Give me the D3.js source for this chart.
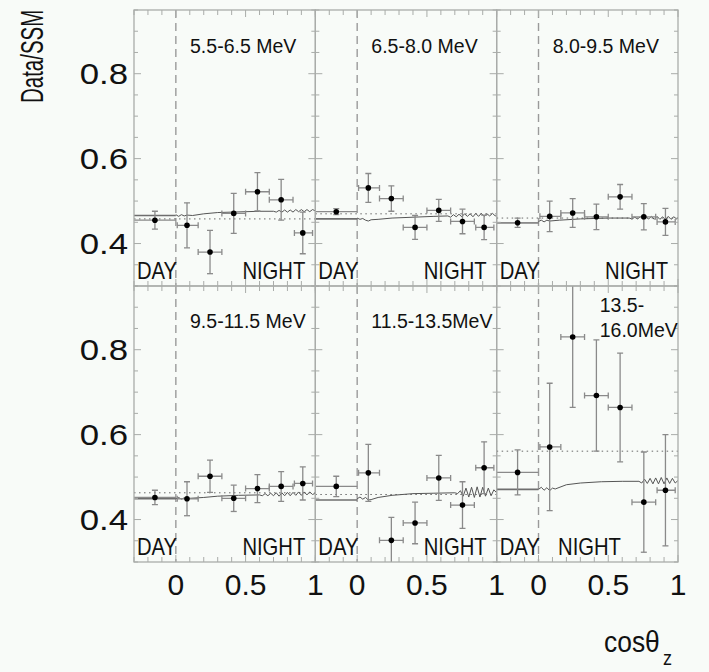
<!DOCTYPE html>
<html>
<head>
<meta charset="utf-8">
<script src="https://cdn.jsdelivr.net/npm/d3@7"></script>
<style>
  html, body { margin: 0; padding: 0; background: #f8fbf8; }
  svg { display: block; }
  text { font-family: "Liberation Sans", Arial, Helvetica, sans-serif; fill: #111; }
</style>
</head>
<body>
<svg id="chart" width="709" height="672"></svg>
<script>
// Energy bins (one panel each)
const energyLabels = [["5.5-6.5 MeV"], ["6.5-8.0 MeV"], ["8.0-9.5 MeV"],
                      ["9.5-11.5 MeV"], ["11.5-13.5MeV"], ["13.5-", "16.0MeV"]];

// Zenith-angle bins for the night data
const binCenters = [0.08, 0.245, 0.415, 0.585, 0.755, 0.91];
const binLo      = [0.01, 0.16, 0.33, 0.50, 0.67, 0.85];
const binHi      = [0.16, 0.33, 0.50, 0.67, 0.84, 0.98];

// Day measurement per energy bin
const dayValues = [0.455, 0.475, 0.449, 0.452, 0.478, 0.511];
const dayErrors = [0.021, 0.007, 0.011, 0.017, 0.024, 0.053];

// Night measurements per energy bin
const nightValues = [
  [0.443, 0.380, 0.471, 0.522, 0.503, 0.425],
  [0.531, 0.506, 0.438, 0.478, 0.452, 0.438],
  [0.464, 0.472, 0.463, 0.510, 0.463, 0.451],
  [0.449, 0.502, 0.450, 0.473, 0.478, 0.485],
  [0.510, 0.351, 0.392, 0.498, 0.434, 0.522],
  [0.571, 0.830, 0.692, 0.664, 0.441, 0.469]
];
const nightErrors = [
  [0.053, 0.051, 0.047, 0.045, 0.048, 0.049],
  [0.034, 0.030, 0.028, 0.026, 0.029, 0.029],
  [0.036, 0.034, 0.030, 0.029, 0.031, 0.032],
  [0.040, 0.038, 0.031, 0.033, 0.035, 0.039],
  [0.067, 0.054, 0.049, 0.053, 0.055, 0.061],
  [0.150, 0.166, 0.131, 0.128, 0.118, 0.131]
];

// Flat reference level (dotted) per energy bin
const flatLevels = [0.458, 0.470, 0.460, 0.463, 0.459, 0.561];

// Oscillation prediction: day level and night curve [cosθz, Data/SSM]
const modelDay = [0.466, 0.458, 0.449, 0.449, 0.446, 0.471];
const modelNight = [
  [[0,0.468],[0.02,0.464],[0.04,0.468],[0.06,0.465],[0.08,0.467],[0.12,0.466],[0.2,0.470],[0.3,0.473],[0.4,0.474],[0.5,0.475],[0.6,0.476],[0.7,0.476],[0.72,0.474],[0.74,0.478],[0.76,0.474],[0.78,0.479],[0.80,0.474],[0.82,0.479],[0.84,0.474],[0.86,0.480],[0.88,0.475],[0.90,0.480],[0.92,0.475],[0.94,0.480],[0.96,0.475],[0.98,0.480],[1.0,0.477]],
  [[0,0.460],[0.02,0.457],[0.04,0.459],[0.06,0.455],[0.08,0.453],[0.10,0.456],[0.15,0.457],[0.25,0.460],[0.4,0.462],[0.55,0.464],[0.65,0.465],[0.67,0.462],[0.69,0.468],[0.71,0.463],[0.73,0.469],[0.75,0.463],[0.77,0.470],[0.79,0.464],[0.81,0.470],[0.83,0.463],[0.85,0.471],[0.87,0.464],[0.89,0.471],[0.91,0.464],[0.93,0.470],[0.95,0.465],[0.97,0.471],[0.99,0.465],[1.0,0.468]],
  [[0,0.452],[0.02,0.455],[0.04,0.451],[0.06,0.455],[0.08,0.453],[0.15,0.455],[0.3,0.458],[0.5,0.460],[0.65,0.460],[0.67,0.458],[0.69,0.462],[0.71,0.458],[0.73,0.463],[0.75,0.457],[0.77,0.463],[0.79,0.458],[0.81,0.464],[0.83,0.457],[0.85,0.464],[0.87,0.457],[0.89,0.463],[0.91,0.456],[0.93,0.464],[0.95,0.457],[0.97,0.463],[0.99,0.458],[1.0,0.461]],
  [[0,0.449],[0.02,0.452],[0.04,0.448],[0.06,0.451],[0.08,0.448],[0.1,0.450],[0.2,0.452],[0.3,0.455],[0.45,0.457],[0.6,0.458],[0.62,0.456],[0.64,0.461],[0.66,0.456],[0.68,0.462],[0.70,0.456],[0.72,0.463],[0.74,0.455],[0.76,0.463],[0.78,0.456],[0.80,0.464],[0.82,0.456],[0.84,0.464],[0.86,0.457],[0.88,0.465],[0.90,0.457],[0.92,0.465],[0.94,0.458],[0.96,0.465],[0.98,0.459],[1.0,0.462]],
  [[0,0.449],[0.02,0.453],[0.04,0.448],[0.06,0.452],[0.08,0.446],[0.1,0.447],[0.15,0.452],[0.25,0.457],[0.4,0.461],[0.55,0.462],[0.7,0.463],[0.72,0.461],[0.74,0.468],[0.76,0.455],[0.78,0.474],[0.80,0.453],[0.82,0.476],[0.84,0.452],[0.86,0.477],[0.88,0.453],[0.90,0.476],[0.92,0.455],[0.94,0.474],[0.96,0.456],[0.98,0.470],[1.0,0.463]],
  [[0,0.471],[0.02,0.476],[0.04,0.469],[0.06,0.475],[0.08,0.468],[0.10,0.474],[0.12,0.472],[0.2,0.482],[0.3,0.486],[0.45,0.489],[0.6,0.490],[0.72,0.490],[0.74,0.486],[0.76,0.495],[0.78,0.485],[0.80,0.497],[0.82,0.484],[0.84,0.498],[0.86,0.484],[0.88,0.499],[0.90,0.484],[0.92,0.498],[0.94,0.485],[0.96,0.497],[0.98,0.486],[1.0,0.492]]
];

// Axis ticks and labels
const yTickLabels = [0.4, 0.6, 0.8];
const yMinorTicks = d3.range(0.30, 0.951, 0.05).map(v => +v.toFixed(2));
const xTickLabels = [0, 0.5, 1];
const xMinorTicks = d3.range(-0.3, 1.001, 0.1).map(v => +v.toFixed(1));

// ---------------------------------------------------------------
const svg = d3.select("#chart");
const frameL = 134, frameR = 678;
const rowTop = [10, 286];
const panelH = 276;
const panelW = (frameR - frameL) / 3;

const gridColor = "#a9aca9";
const barColor = "#8a8a8a";

function label(parent, x, y, str, size, sx, anchor) {
  parent.append("text")
    .attr("transform", `translate(${x},${y}) scale(${sx},1)`)
    .attr("text-anchor", anchor || "start")
    .style("font-size", size + "px")
    .text(str);
}

energyLabels.forEach((lab, i) => {
  const col = i % 3, row = Math.floor(i / 3);
  const x0 = frameL + col * panelW, y0 = rowTop[row];
  const x = d3.scaleLinear().domain([-0.3, 1]).range([x0, x0 + panelW]);
  const y = d3.scaleLinear().domain([0.3, 0.95]).range([y0 + panelH, y0]);
  const g = svg.append("g");

  const clipId = "clip" + i;
  g.append("clipPath").attr("id", clipId)
    .append("rect").attr("x", x0).attr("y", y0).attr("width", panelW).attr("height", panelH);
  const plot = g.append("g").attr("clip-path", `url(#${clipId})`);

  // ticks along the four edges, pointing inward
  const tk = g.append("g").attr("stroke", gridColor).attr("stroke-width", 1);
  yMinorTicks.forEach(v => {
    const len = yTickLabels.some(t => Math.abs(t - v) < 1e-6) ? 7 : 4;
    tk.append("line").attr("x1", x0).attr("x2", x0 + len).attr("y1", y(v)).attr("y2", y(v));
    tk.append("line").attr("x1", x0 + panelW).attr("x2", x0 + panelW - len).attr("y1", y(v)).attr("y2", y(v));
  });
  xMinorTicks.forEach(v => {
    const len = xTickLabels.some(t => Math.abs(t - v) < 1e-6) ? 7 : 5;
    tk.append("line").attr("x1", x(v)).attr("x2", x(v)).attr("y1", y0).attr("y2", y0 + len);
    tk.append("line").attr("x1", x(v)).attr("x2", x(v)).attr("y1", y0 + panelH).attr("y2", y0 + panelH - len);
  });

  // day / night separator
  plot.append("line")
    .attr("x1", x(0)).attr("x2", x(0)).attr("y1", y0).attr("y2", y0 + panelH)
    .attr("stroke", "#9a9a9a").attr("stroke-width", 1.4).attr("stroke-dasharray", "8,5");

  // flat reference level
  plot.append("line")
    .attr("x1", x(-0.3)).attr("x2", x(1)).attr("y1", y(flatLevels[i])).attr("y2", y(flatLevels[i]))
    .attr("stroke", "#6a6a6a").attr("stroke-width", 1).attr("stroke-dasharray", "1.5,3.5");

  // prediction: day level and night curve
  plot.append("line")
    .attr("x1", x(-0.3)).attr("x2", x(0)).attr("y1", y(modelDay[i])).attr("y2", y(modelDay[i]))
    .attr("stroke", "#6e6e6e").attr("stroke-width", 1.6);
  plot.append("path")
    .attr("d", d3.line().x(d => x(d[0])).y(d => y(d[1]))(modelNight[i]))
    .attr("fill", "none").attr("stroke", "#555").attr("stroke-width", 1);

  // day point
  const eb = plot.append("g").attr("stroke", barColor).attr("stroke-width", 1.3).attr("fill", "none");
  eb.append("line").attr("x1", x(-0.3)).attr("x2", x(0))
    .attr("y1", y(dayValues[i])).attr("y2", y(dayValues[i]));
  const dx = x(-0.15);
  eb.append("line").attr("x1", dx).attr("x2", dx)
    .attr("y1", y(dayValues[i] - dayErrors[i])).attr("y2", y(dayValues[i] + dayErrors[i]));
  [-1, 1].forEach(s => {
    eb.append("line").attr("x1", dx - 3).attr("x2", dx + 3)
      .attr("y1", y(dayValues[i] + s * dayErrors[i])).attr("y2", y(dayValues[i] + s * dayErrors[i]));
  });
  plot.append("circle").attr("cx", dx).attr("cy", y(dayValues[i])).attr("r", 2.8).attr("fill", "#000");

  // night points
  nightValues[i].forEach((v, k) => {
    const e = nightErrors[i][k];
    const cx = x(binCenters[k]), cy = y(v);
    eb.append("line").attr("x1", x(binLo[k])).attr("x2", x(binHi[k])).attr("y1", cy).attr("y2", cy);
    [binLo[k], binHi[k]].forEach(b => {
      eb.append("line").attr("x1", x(b)).attr("x2", x(b)).attr("y1", cy - 3).attr("y2", cy + 3);
    });
    eb.append("line").attr("x1", cx).attr("x2", cx).attr("y1", y(v - e)).attr("y2", y(v + e));
    [-1, 1].forEach(s => {
      eb.append("line").attr("x1", cx - 3).attr("x2", cx + 3).attr("y1", y(v + s * e)).attr("y2", y(v + s * e));
    });
    plot.append("circle").attr("cx", cx).attr("cy", cy).attr("r", 2.8).attr("fill", "#000");
  });

  // panel frame
  g.append("rect").attr("x", x0).attr("y", y0).attr("width", panelW).attr("height", panelH)
    .attr("fill", "none").attr("stroke", gridColor).attr("stroke-width", 1.3);

  // texts
  if (lab.length === 1) {
    label(g, x0 + 56, y0 + 43 - row, lab[0], 21, 0.93);
  } else {
    label(g, x0 + 103, y0 + 26, lab[0], 21, 0.93);
    label(g, x0 + 103, y0 + 51, lab[1], 21, 0.93);
  }
  label(g, x0 + 3, y0 + panelH - 7, "DAY", 23, 0.88);
  if (i === 5) label(g, x(0.14), y0 + panelH - 7, "NIGHT", 23, 0.88);
  else label(g, x0 + panelW - 10, y0 + panelH - 7, "NIGHT", 23, 0.88, "end");

  // axis tick labels
  if (col === 0) {
    yTickLabels.forEach(v => label(svg, 128, y(v) + 10.5, v.toFixed(1), 29, 1.2, "end"));
  }
  if (row === 1) {
    xTickLabels.forEach(v => label(svg, x(v), 595, String(v), 30, 1, "middle"));
  }
});

// axis titles
svg.append("text")
  .attr("transform", "translate(43,103) rotate(-90) scale(0.66,1)")
  .style("font-size", "31px")
  .text("Data/SSM");
label(svg, 604, 652, "cosθ", 30, 0.88);
label(svg, 663, 665, "z", 20, 0.9);
</script>
</body>
</html>
